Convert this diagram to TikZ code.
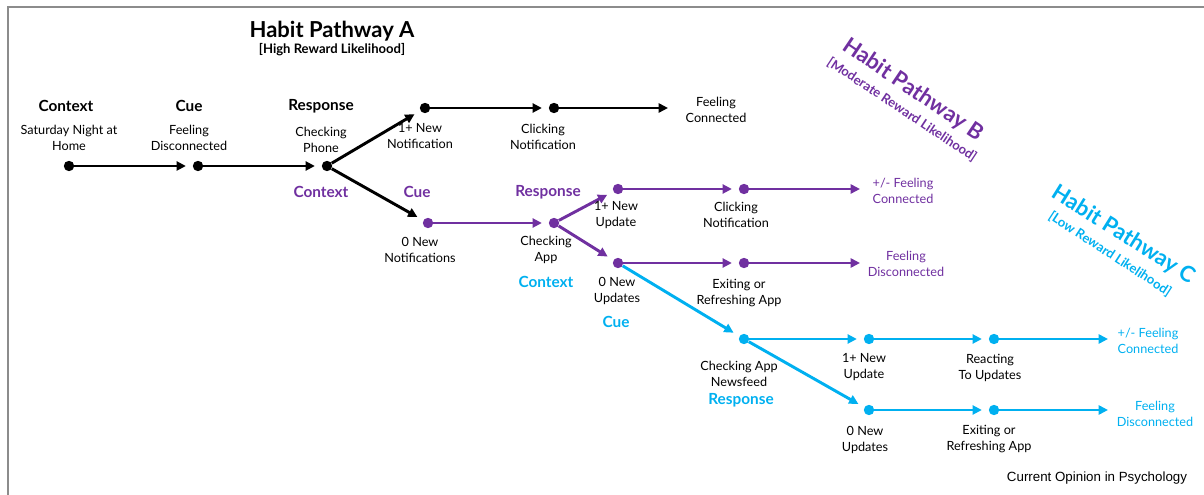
\documentclass[tikz,border=0pt]{standalone}
\usepackage{fontspec}
\setmainfont{Lato}
\newfontfamily\arialfont{Liberation Sans}
\usetikzlibrary{arrows.meta}
\definecolor{pB}{RGB}{112,48,160}
\definecolor{pC}{RGB}{0,176,240}
\definecolor{framegray}{RGB}{140,140,140}
\begin{document}
\begin{tikzpicture}[x=0.75pt,y=-0.75pt,
  dot/.style={circle,fill=#1,inner sep=0pt,minimum size=7.8pt},
  arr/.style={draw=#1,line width=2.2pt,-{Triangle[length=7pt,width=6.8pt]},shorten >=5pt},
  lbl/.style={align=center,font=\fontsize{9.5}{12}\selectfont,text=#1,inner sep=0pt},
  lbl/.default=black,
  hd/.style={font=\bfseries\fontsize{11.5}{13}\selectfont,text=#1,inner sep=0pt},
  hd/.default=black,
  ttl/.style={font=\bfseries\fontsize{16.5}{18}\selectfont,text=#1,inner sep=0pt},
  sub/.style={font=\bfseries\fontsize{9.8}{11}\selectfont,text=#1,inner sep=0pt}
]
\useasboundingbox (0,0) rectangle (1204,495);
\draw[framegray,line width=1.5pt] (8,495) -- (8,7) -- (1204,7);

% titles
\node[ttl=black] (tA) at (332,31) {Habit Pathway A};
\node[sub=black] (sA) at (332,50) {[High Reward Likelihood]};
\node[ttl=pB,rotate=-34] (tB) at (913,90) {Habit Pathway B};
\node[sub=pB,rotate=-33.5] (sB) at (902,110) {[Moderate Reward Likelihood]};
\node[ttl=pC,rotate=-32] (tC) at (1123,235) {Habit Pathway C};
\node[sub=pC,rotate=-33] (sC) at (1110,254) {[Low Reward Likelihood]};

% dots
\node[dot=black] (a1) at (69,166) {};
\node[dot=black] (a2) at (198,166) {};
\node[dot=black] (a3) at (327,166) {};
\node[dot=black] (a4) at (425,108) {};
\node[dot=black] (a5) at (554,108) {};
\coordinate (a6) at (668,108);

\node[dot=pB] (b1) at (428,223) {};
\node[dot=pB] (b2) at (554,223) {};
\node[dot=pB] (b3) at (618,189) {};
\node[dot=pB] (b4) at (744,189) {};
\coordinate (b5) at (860,189);
\node[dot=pB] (b6) at (618,263) {};
\node[dot=pB] (b7) at (744,263) {};
\coordinate (b8) at (860,263);

\node[dot=pC] (c1) at (744,339) {};
\node[dot=pC] (c2) at (869,339) {};
\node[dot=pC] (c3) at (994,339) {};
\coordinate (c4) at (1108,339);
\node[dot=pC] (c5) at (869,410) {};
\node[dot=pC] (c6) at (994,410) {};
\coordinate (c7) at (1108,410);

% connectors
\draw[arr=black] (a1) -- (a2);
\draw[arr=black] (a2) -- (a3);
\draw[arr=black] (a3) -- (a4);
\draw[arr=black] (a4) -- (a5);
\draw[arr=black,shorten >=0pt] (a5) -- (a6);
\draw[arr=black] (a3) -- (b1);

\draw[arr=pB] (b1) -- (b2);
\draw[arr=pB] (b2) -- (b3);
\draw[arr=pB] (b2) -- (b6);
\draw[arr=pB] (b3) -- (b4);
\draw[arr=pB,shorten >=0pt] (b4) -- (b5);
\draw[arr=pB] (b6) -- (b7);
\draw[arr=pB,shorten >=0pt] (b7) -- (b8);

\draw[arr=pC] (b6) -- (c1);
\draw[arr=pC] (c1) -- (c2);
\draw[arr=pC] (c2) -- (c3);
\draw[arr=pC,shorten >=0pt] (c3) -- (c4);
\draw[arr=pC] (c1) -- (c5);
\draw[arr=pC] (c5) -- (c6);
\draw[arr=pC,shorten >=0pt] (c6) -- (c7);

% pathway A labels
\node[hd] (hA1) at (66,106) {Context};
\node[hd] (hA2) at (189,106) {Cue};
\node[hd] (hA3) at (321,106) {Response};
\node[lbl] (l1) at (69,138) {Saturday Night at\\Home};
\node[lbl] (l2) at (189,138) {Feeling\\Disconnected};
\node[lbl] (l3) at (321,140) {Checking\\Phone};
\node[lbl] (l4) at (420,136) {1+ New\\Notification};
\node[lbl] (l5) at (543,137) {Clicking\\Notification};
\node[lbl] (l6) at (716,110) {Feeling\\Connected};

% pathway B labels
\node[hd=pB] (hB1) at (321,192) {Context};
\node[hd=pB] (hB2) at (417,192) {Cue};
\node[hd=pB] (hB3) at (548,192) {Response};
\node[lbl] (m1) at (420,250) {0 New\\Notifications};
\node[lbl] (m2) at (546,250) {Checking\\App};
\node[lbl] (m3) at (616,215) {1+ New\\Update};
\node[lbl] (m4) at (736,215) {Clicking\\Notification};
\node[lbl] (m5) at (617,291) {0 New\\Updates};
\node[lbl] (m6) at (739,293) {Exiting or\\Refreshing App};
\node[lbl=pB] (m7) at (903,191) {+/- Feeling\\Connected};
\node[lbl=pB] (m8) at (906,264) {Feeling\\Disconnected};

% pathway C labels
\node[hd=pC] (hC1) at (546,282) {Context};
\node[hd=pC] (hC2) at (616,322) {Cue};
\node[hd=pC] (hC3) at (741,400) {Response};
\node[lbl] (n1) at (739,374) {Checking App\\Newsfeed};
\node[lbl] (n2) at (864,367) {1+ New\\Update};
\node[lbl] (n3) at (990,368) {Reacting\\To Updates};
\node[lbl] (n4) at (865,440) {0 New\\Updates};
\node[lbl] (n5) at (989,439) {Exiting or\\Refreshing App};
\node[lbl=pC] (n6) at (1148,341) {+/- Feeling\\Connected};
\node[lbl=pC] (n7) at (1155,414) {Feeling\\Disconnected};

\node[font=\arialfont\fontsize{10}{12}\selectfont,inner sep=0pt] (src) at (1097,478) {Current Opinion in Psychology};
\end{tikzpicture}
\end{document}
